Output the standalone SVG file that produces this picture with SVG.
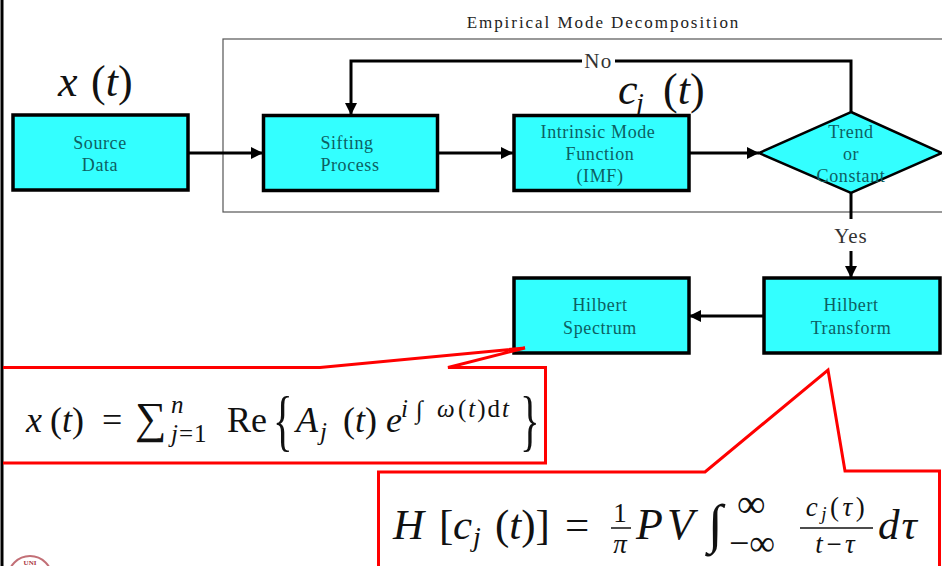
<svg xmlns="http://www.w3.org/2000/svg" width="942" height="566" viewBox="0 0 942 566">
<defs>
<marker id="arr" markerUnits="userSpaceOnUse" markerWidth="14" markerHeight="14" refX="12" refY="6" orient="auto"><path d="M0 0L12 6L0 12Z" fill="#000"/></marker>
</defs>
<style>
.node{fill:#33ffff;stroke:#000;stroke-width:3.5}
.lbl{font-family:"Liberation Serif",serif;font-size:18px;fill:#0d5f63;text-anchor:middle;letter-spacing:.6px}
.conn{fill:none;stroke:#000;stroke-width:3}
.red{fill:none;stroke:#ff0000;stroke-width:3}
.m{font-family:"Liberation Serif",serif;fill:#111}
.i{font-style:italic}
</style>
<rect width="942" height="566" fill="#fff"/>
<line x1="2" y1="0" x2="2" y2="566" stroke="#000" stroke-width="3"/>
<rect id="emd-frame" x="223" y="39" width="725" height="173" fill="none" stroke="#555" stroke-width="1.2"/>
<text x="603.500" y="28" font-family="Liberation Serif,serif" font-size="17" fill="#222" text-anchor="middle" letter-spacing="1.95">Empirical Mode Decomposition</text>

<text class="m i" x="58" y="96" font-size="44">x</text><text class="m" x="91" y="96" font-size="44">(<tspan class="i">t</tspan>)</text>
<text class="m i" x="618" y="104" font-size="44">c</text><text class="m i" x="636" y="112" font-size="28">j</text><text class="m" x="663" y="104" font-size="44">(<tspan class="i">t</tspan>)</text>

<g id="connectors">
<path class="conn" d="M188 153H263" marker-end="url(#arr)"/>
<path class="conn" d="M438 153H513" marker-end="url(#arr)"/>
<path class="conn" d="M689 153H759" marker-end="url(#arr)"/>
<path class="conn" d="M851 112V61H351V115" marker-end="url(#arr)"/>
<path class="conn" d="M851 193V219"/>
<path class="conn" d="M851 251V278" marker-end="url(#arr)"/>
<path class="conn" d="M764 316H689" marker-end="url(#arr)"/>
<rect x="582" y="50" width="33" height="22" fill="#fff"/>
<text x="598.500" y="68" font-family="Liberation Serif,serif" font-size="21" fill="#333" text-anchor="middle" letter-spacing="1.500">No</text>
<text x="851" y="243" font-family="Liberation Serif,serif" font-size="21" fill="#333" text-anchor="middle" letter-spacing="1">Yes</text>
</g>

<g id="source"><rect class="node" x="13" y="115" width="175" height="75"/><text class="lbl" x="100" y="149">Source</text><text class="lbl" x="100" y="171">Data</text></g>
<g id="sifting"><rect class="node" x="263.500" y="115.500" width="174" height="75"/><text class="lbl" x="347" y="149">Sifting</text><text class="lbl" x="350" y="171">Process</text></g>
<g id="imf"><rect class="node" x="514" y="115.500" width="175" height="75"/><text class="lbl" x="598" y="138">Intrinsic Mode</text><text class="lbl" x="600" y="160">Function</text><text class="lbl" x="600" y="182">(IMF)</text></g>
<g id="decision"><polygon points="851,112 942,153 851,193 759,153" fill="#33ffff" stroke="#000" stroke-width="2.500"/><text class="lbl" x="851" y="138">Trend</text><text class="lbl" x="851" y="160">or</text><text class="lbl" x="851" y="182">Constant</text></g>
<g id="spectrum"><rect class="node" x="514" y="278" width="175" height="75"/><text class="lbl" x="600" y="311">Hilbert</text><text class="lbl" x="600" y="334">Spectrum</text></g>
<g id="transform"><rect class="node" x="764" y="278" width="176" height="75"/><text class="lbl" x="851" y="311">Hilbert</text><text class="lbl" x="851" y="334">Transform</text></g>

<g id="callout-sum">
<path class="red" d="M3 367.500H320L525 348L448 367.500H545.500V463H3"/>
<text class="m i" x="26" y="432" font-size="36">x</text>
<text class="m" x="50" y="432" font-size="36">(<tspan class="i">t</tspan>)</text>
<text class="m" x="102" y="432" font-size="36">=</text>
<text class="m" x="135" y="433" font-size="44">∑</text>
<text class="m i" x="171" y="413" font-size="25">n</text>
<text class="m" x="171" y="442" font-size="25" letter-spacing="1"><tspan class="i">j</tspan>=1</text>
<text class="m" x="227" y="432" font-size="36">Re</text>
<text class="m" font-size="68" transform="translate(273 443) scale(.6 1)">{</text>
<text class="m i" x="296" y="432" font-size="36">A</text>
<text class="m i" x="320" y="440" font-size="25">j</text>
<text class="m" x="343" y="432" font-size="36">(<tspan class="i">t</tspan>)</text>
<text class="m i" x="386" y="432" font-size="36">e</text>
<text class="m i" x="401" y="417" font-size="25">i</text>
<text class="m" x="416" y="418" font-size="25">∫</text>
<text class="m i" x="437" y="417" font-size="25">ω</text>
<text class="m" x="458" y="417" font-size="25" letter-spacing="2">(<tspan class="i">t</tspan>)d<tspan class="i">t</tspan></text>
<text class="m" font-size="68" transform="translate(520 443) scale(.6 1)">}</text>
</g>

<g id="callout-hilbert">
<path class="red" d="M378.500 566V472H705L828 370L845 471H939.500V566"/>
<text class="m i" x="393" y="539" font-size="43">H</text>
<text class="m" x="439" y="539" font-size="43">[</text>
<text class="m i" x="453" y="539" font-size="43">c</text>
<text class="m i" x="473" y="546" font-size="28">j</text>
<text class="m" x="495" y="539" font-size="43">(<tspan class="i">t</tspan>)]</text>
<text class="m" x="565" y="539" font-size="43">=</text>
<text class="m" x="620" y="522" font-size="27" text-anchor="middle">1</text>
<line x1="611" y1="528" x2="631" y2="528" stroke="#111" stroke-width="1.500"/>
<text class="m i" x="620" y="553" font-size="27" text-anchor="middle">π</text>
<text class="m i" x="636" y="539" font-size="44" letter-spacing="4">PV</text>
<text class="m" x="708" y="542" font-size="54">∫</text>
<text class="m" x="737" y="517" font-size="40">∞</text>
<text class="m" x="729" y="555" font-size="36">−∞</text>
<text class="m" x="837" y="516" font-size="27" text-anchor="middle" letter-spacing="3.500"><tspan class="i">c</tspan><tspan class="i" font-size="19" dy="4">j</tspan><tspan dy="-4">(</tspan><tspan class="i">τ</tspan>)</text>
<line x1="800" y1="528" x2="873" y2="528" stroke="#111" stroke-width="1.500"/>
<text class="m i" x="836" y="553" font-size="27" text-anchor="middle" letter-spacing="2">t−τ</text>
<text class="m i" x="878" y="539" font-size="43" letter-spacing="2">dτ</text>
</g>

<g id="logo">
<circle cx="30" cy="578" r="22" fill="none" stroke="#a8323c" stroke-width="2" opacity=".7"/>
<text x="30" y="565" font-family="Liberation Serif,serif" font-size="7" font-weight="bold" fill="#a8323c" text-anchor="middle">UNI</text>
</g>
</svg>
